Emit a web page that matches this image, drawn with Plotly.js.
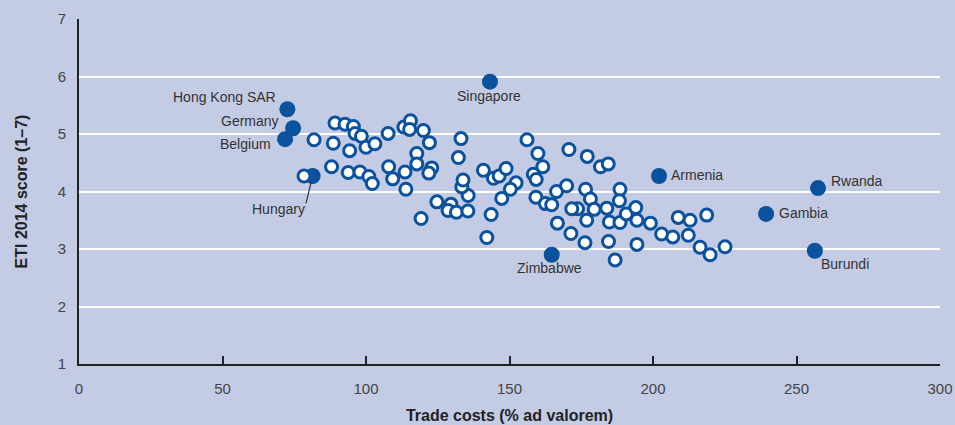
<!DOCTYPE html>
<html>
<head>
<meta charset="utf-8">
<script src="https://cdn.plot.ly/plotly-3.0.1.min.js"></script>
<style>html,body{margin:0;padding:0;background:#c4cbe4;}#chart{width:955px;height:425px;}</style>
</head>
<body>
<div id="chart"></div>
<script>
// Unlabelled economies: trade costs (% ad valorem) and ETI 2014 score
const otherCosts = [81.9,78.4,89.2,92.7,95.6,96.2,98.4,88.6,94.3,100.0,103.1,107.7,113.2,115.5,115.2,120.0,122.1,117.7,117.7,122.9,121.9,113.6,109.3,107.9,88.0,93.8,97.9,101.0,102.2,113.9,119.2,124.7,129.6,128.6,131.5,135.5,135.6,133.4,133.8,132.2,133.1,140.9,144.4,146.4,148.8,152.3,150.3,147.3,143.6,142.1,156.1,159.9,161.6,158.3,159.3,159.2,162.5,164.7,166.4,169.9,166.7,171.4,170.7,177.1,181.7,184.4,176.5,178.2,179.5,173.7,171.7,176.9,176.3,183.9,184.8,184.5,186.8,188.5,188.3,188.5,190.7,194.0,194.4,194.4,199.1,203.0,206.9,208.8,212.9,212.3,218.7,216.4,219.9,225.1];
const otherScores = [4.90,4.27,5.19,5.17,5.13,5.01,4.96,4.84,4.71,4.77,4.83,5.01,5.12,5.23,5.08,5.06,4.85,4.66,4.48,4.41,4.32,4.34,4.22,4.43,4.43,4.33,4.34,4.26,4.14,4.04,3.53,3.82,3.78,3.67,3.64,3.66,3.93,4.08,4.20,4.59,4.92,4.37,4.23,4.27,4.40,4.15,4.04,3.88,3.60,3.20,4.90,4.66,4.43,4.30,4.21,3.90,3.79,3.77,4.00,4.10,3.45,3.27,4.73,4.61,4.43,4.48,4.04,3.87,3.69,3.70,3.70,3.50,3.11,3.71,3.47,3.13,2.81,4.04,3.84,3.46,3.61,3.72,3.50,3.08,3.45,3.26,3.21,3.55,3.50,3.24,3.59,3.03,2.90,3.04];

// Highlighted economies
const namedEconomies = ["Hong Kong SAR","Germany","Belgium","Hungary","Singapore","Zimbabwe","Armenia","Rwanda","Gambia","Burundi"];
const namedCosts  = [72.6, 74.6, 71.8, 81.4, 143.2, 164.7, 202.1, 257.5, 239.4, 256.4];
const namedScores = [5.43, 5.10, 4.91, 4.27, 5.91, 2.90, 4.27, 4.06, 3.61, 2.97];

const xTicks = [0,50,100,150,200,250,300];
const yTicks = [1,2,3,4,5,6,7];

const FONT = "'Liberation Sans Narrow', 'Arial Narrow', 'Liberation Sans', Arial, sans-serif";
const BLUE = "#0a519e";
const BG = "#c4cbe4";

// label placement (pixel offsets from each point)
const labelPos = {
  "Hong Kong SAR": {xanchor:"right", yanchor:"middle", xshift:-9, yshift:12},
  "Germany":       {xanchor:"right", yanchor:"middle", xshift:-12, yshift:7},
  "Belgium":       {xanchor:"right", yanchor:"middle", xshift:-12, yshift:-5},
  "Hungary":       {xanchor:"center", yanchor:"middle", xshift:-34, yshift:-33},
  "Singapore":     {xanchor:"center", yanchor:"middle", xshift:-1, yshift:-14},
  "Zimbabwe":      {xanchor:"center", yanchor:"middle", xshift:-2, yshift:-13},
  "Armenia":       {xanchor:"left", yanchor:"middle", xshift:10, yshift:1},
  "Rwanda":        {xanchor:"left", yanchor:"middle", xshift:11, yshift:7},
  "Gambia":        {xanchor:"left", yanchor:"middle", xshift:11, yshift:1},
  "Burundi":       {xanchor:"left", yanchor:"middle", xshift:4, yshift:-13}
};

const annotations = namedEconomies.map((n,i)=>Object.assign({
  x: namedCosts[i], y: namedScores[i], xref:"x", yref:"y",
  text: n, showarrow:false,
  font:{family:FONT, size:14, color:"#333"}
}, labelPos[n]));

// leader line for Hungary
const hi = namedEconomies.indexOf("Hungary");
annotations.push({
  x: namedCosts[hi], y: namedScores[hi], xref:"x", yref:"y",
  text:"", showarrow:true, arrowhead:0, arrowwidth:1.2, arrowcolor:"#333",
  ax:-7, ay:29, standoff:6
});

const traces = [
  {
    type:"scatter", mode:"markers", x:namedCosts, y:namedScores, text:namedEconomies,
    marker:{size:16, color:BLUE, line:{width:0}}, hoverinfo:"text+x+y"
  },
  {
    type:"scatter", mode:"markers", x:otherCosts, y:otherScores,
    marker:{size:12, color:"#ffffff", line:{width:3, color:BLUE}}, hoverinfo:"x+y"
  }
];

const layout = {
  width:955, height:425,
  margin:{l:79, r:15, t:19, b:61},
  paper_bgcolor:BG, plot_bgcolor:BG,
  showlegend:false,
  font:{family:FONT, size:15, color:"#444"},
  xaxis:{
    range:[0,300], tickvals:xTicks, ticktext:xTicks.map(String),
    ticks:"inside", ticklen:8, tickwidth:2, tickcolor:"#222",
    showline:true, linecolor:"#222", linewidth:2,
    showgrid:false, zeroline:false, ticklabelstandoff:10,
    tickfont:{family:FONT, size:15, color:"#444"},
    title:{text:"Trade costs (% ad valorem)", standoff:14,
      font:{family:FONT, size:16, color:"#222", weight:"bold"}}
  },
  yaxis:{
    range:[1,7], tickvals:yTicks, ticktext:yTicks.map(String),
    ticks:"", showline:true, linecolor:"#222", linewidth:2,
    showgrid:true, gridcolor:"#ffffff", gridwidth:2, zeroline:false,
    ticklabelstandoff:8,
    tickfont:{family:FONT, size:15, color:"#444"},
    title:{text:"ETI 2014 score (1–7)", standoff:26,
      font:{family:FONT, size:16, color:"#222", weight:"bold"}}
  },
  annotations: annotations
};

Plotly.newPlot("chart", traces, layout, {displayModeBar:false, staticPlot:true});
</script>
</body>
</html>
